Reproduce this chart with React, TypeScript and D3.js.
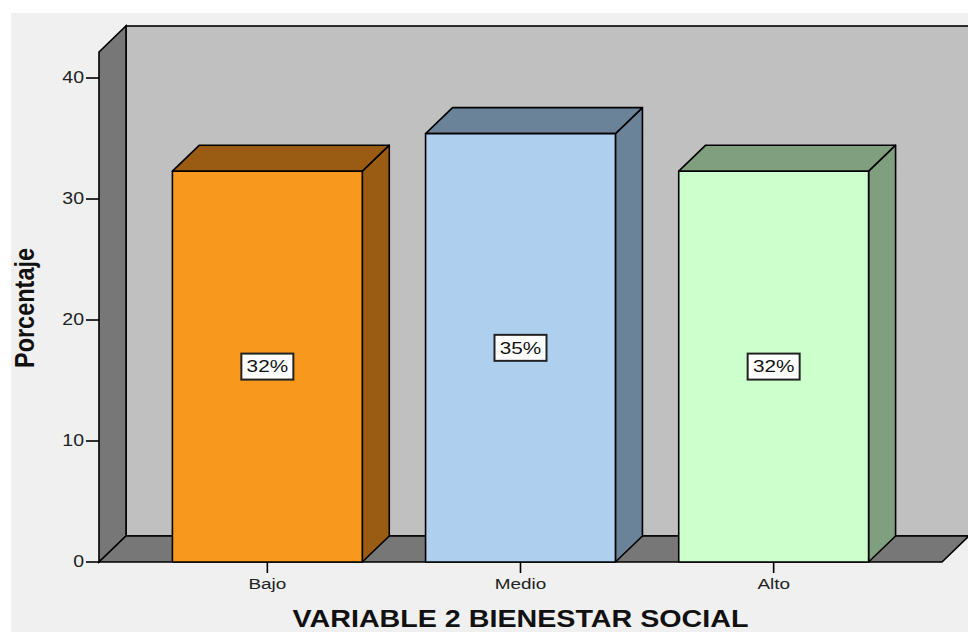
import * as d3 from "d3";

// Barras 3D estilo SPSS: porcentaje por nivel de bienestar social.
const categories = ["Bajo", "Medio", "Alto"];
const percents = [32.3, 35.4, 32.3];
const pctLabels = ["32%", "35%", "32%"];
const yTicks = [0, 10, 20, 30, 40];

const W = 968;
const H = 632;
const DX = 27; // profundidad 3D
const DY = 26;
const SX = 1.22; // el original viene estirado en horizontal
const FRONT = { left: 99, right: 942, bottom: 562 };

const fills = [
  { front: "#f8991d", side: "#9a5b12" },
  { front: "#aecfee", side: "#6b8399" },
  { front: "#ccffcc", side: "#7f9f7f" },
];

const font = "'Liberation Sans', Arial, sans-serif";

export default function App() {
  const y = d3.scaleLinear().domain([0, 42.15]).range([FRONT.bottom, 52]);
  const x = d3
    .scaleBand<string>()
    .domain(categories)
    .range([FRONT.left, FRONT.right])
    .paddingInner(0.25)
    .paddingOuter(0.29);

  const top = y(42.15);
  const bw = x.bandwidth();
  const pts = (a: [number, number][]) => a.map((p) => p.join(",")).join(" ");
  const at = (px: number, py: number) => `translate(${px},${py}) scale(${SX},1)`;

  return (
    <div style={{ position: "absolute", left: 0, top: 0 }}>
      <svg width={W} height={H} style={{ display: "block", fontFamily: font }}>
        <rect width={W} height={H} fill="#fff" />
        <rect x={11} y={13} width={W - 11} height={H - 13} fill="#f0f0f0" />

        {/* pared de fondo */}
        <rect
          x={FRONT.left + DX}
          y={top - DY}
          width={W + 10 - FRONT.left - DX}
          height={FRONT.bottom - DY - (top - DY)}
          fill="#c0c0c0"
          stroke="#000"
          strokeWidth={1.6}
        />
        {/* pared izquierda */}
        <polygon
          points={pts([
            [FRONT.left, top],
            [FRONT.left + DX, top - DY],
            [FRONT.left + DX, FRONT.bottom - DY],
            [FRONT.left, FRONT.bottom],
          ])}
          fill="#777"
          stroke="#000"
          strokeWidth={1.6}
        />
        {/* suelo */}
        <polygon
          points={pts([
            [FRONT.left, FRONT.bottom],
            [FRONT.right, FRONT.bottom],
            [FRONT.right + DX, FRONT.bottom - DY],
            [FRONT.left + DX, FRONT.bottom - DY],
          ])}
          fill="#777"
          stroke="#000"
          strokeWidth={1.6}
        />

        {/* barras */}
        {categories.map((c, i) => {
          const x0 = x(c)!;
          const x1 = x0 + bw;
          const yt = y(percents[i]);
          const yb = FRONT.bottom;
          const f = fills[i];
          return (
            <g key={c} stroke="#000" strokeWidth={1.6} strokeLinejoin="round">
              <polygon
                points={pts([
                  [x1, yt],
                  [x1 + DX, yt - DY],
                  [x1 + DX, yb - DY],
                  [x1, yb],
                ])}
                fill={f.side}
              />
              <polygon
                points={pts([
                  [x0, yt],
                  [x0 + DX, yt - DY],
                  [x1 + DX, yt - DY],
                  [x1, yt],
                ])}
                fill={f.side}
              />
              <rect x={x0} y={yt} width={bw} height={yb - yt} fill={f.front} />
            </g>
          );
        })}

        {/* etiquetas de porcentaje */}
        {categories.map((c, i) => {
          const cx = x(c)! + bw / 2;
          const cy = y(percents[i] / 2);
          return (
            <g key={c + "-lbl"}>
              <rect
                x={cx - 26}
                y={cy - 13}
                width={52}
                height={26}
                fill="#fff"
                stroke="#222"
                strokeWidth={2}
              />
              <text
                transform={at(cx, cy)}
                textAnchor="middle"
                dominantBaseline="central"
                fontSize={17}
                fill="#111"
              >
                {pctLabels[i]}
              </text>
            </g>
          );
        })}

        {/* eje Y */}
        {yTicks.map((t) => (
          <g key={t}>
            <line
              x1={FRONT.left - 13}
              x2={FRONT.left}
              y1={y(t)}
              y2={y(t)}
              stroke="#000"
              strokeWidth={1.6}
            />
            <text
              transform={at(FRONT.left - 15, y(t))}
              textAnchor="end"
              dominantBaseline="central"
              fontSize={16}
              fill="#222"
            >
              {t}
            </text>
          </g>
        ))}

        {/* eje X */}
        {categories.map((c) => {
          const cx = x(c)! + bw / 2;
          return (
            <g key={c + "-tick"}>
              <line
                x1={cx}
                x2={cx}
                y1={FRONT.bottom}
                y2={FRONT.bottom + 11}
                stroke="#000"
                strokeWidth={1.6}
              />
              <text
                transform={at(cx, FRONT.bottom + 27)}
                textAnchor="middle"
                fontSize={15.5}
                fill="#222"
              >
                {c}
              </text>
            </g>
          );
        })}

        <text
          transform={`translate(34,308) scale(${SX},1) rotate(-90)`}
          textAnchor="middle"
          fontSize={22}
          fontWeight="bold"
          textLength={120}
          lengthAdjust="spacingAndGlyphs"
          fill="#111"
        >
          Porcentaje
        </text>
        <text
          transform={at((FRONT.left + FRONT.right) / 2, 627)}
          textAnchor="middle"
          fontSize={23.5}
          fontWeight="bold"
          fill="#111"
        >
          VARIABLE 2 BIENESTAR SOCIAL
        </text>
      </svg>
    </div>
  );
}
